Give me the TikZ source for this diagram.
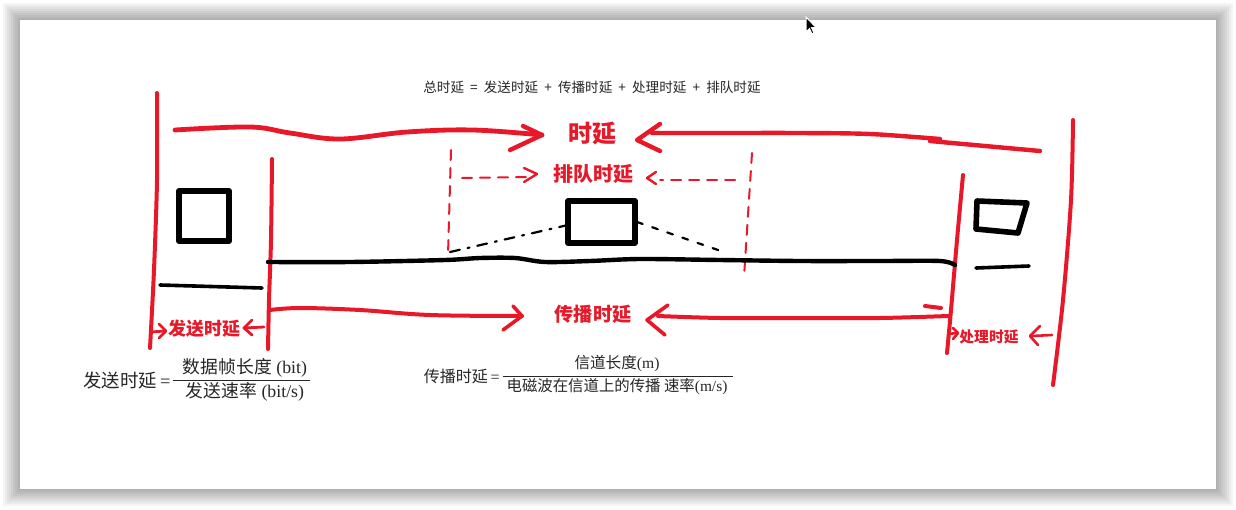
\documentclass[tikz,border=0pt]{standalone}
\usepackage{fontspec}
\setmainfont{Liberation Serif}
\newfontfamily\cjk{Noto Sans CJK SC}
\usetikzlibrary{calc}
\definecolor{pen}{RGB}{232,24,40}
\tikzset{
  redpen/.style={draw=pen, line width=2pt, line cap=round, line join=round},
  redhead/.style={draw=pen, line width=1.8pt, line cap=round, line join=round},
  reddash/.style={draw=pen, line width=1pt, line cap=round, dash pattern=on 5pt off 4pt},
  blackpen/.style={draw=black, line width=3pt, line cap=round, line join=round},
  blackline/.style={draw=black, line width=1.8pt, line cap=round},
  blackdash/.style={draw=black, line width=1.1pt, line cap=round, dash pattern=on 5pt off 4pt on 1pt off 4pt},
  redlabel/.style={text=pen, font=\cjk\bfseries, inner sep=0pt},
  formula/.style={text=black!85, inner sep=0pt},
}
\begin{document}
\begin{tikzpicture}[x=0.5pt,y=-0.5pt]
\useasboundingbox (0,0) rectangle (1236,509);
\fill[white] (0,0) rectangle (1236,509);
% window shadow
\foreach \d in {17,15,...,1}
  \fill[black, opacity=0.04] (20-\d,20-\d) rectangle (1216+\d,489+\d);
\fill[white] (20,20) rectangle (1216,489);

% ---------- texts ----------
\node[formula, font=\cjk\fontsize{6.8}{8}\selectfont] (total) at (592,87)
  {总时延 \ =\ \ 发送时延 \ +\ \ 传播时延 \ +\ \ 处理时延 \ +\ \ 排队时延};
\node[redlabel, font=\cjk\bfseries\fontsize{12}{14}\selectfont] (delay) at (592,133) {时延};
\node[redlabel, font=\cjk\bfseries\fontsize{10}{12}\selectfont] (queue) at (593,174) {排队时延};
\node[redlabel, font=\cjk\bfseries\fontsize{9.6}{12}\selectfont] (prop) at (593,314) {传播时延};
\node[redlabel, font=\cjk\bfseries\fontsize{9}{11}\selectfont] (send) at (204,329) {发送时延};
\node[redlabel, font=\cjk\bfseries\fontsize{7.4}{9}\selectfont] (proc) at (989,337) {处理时延};

% formula 1
\node[formula, anchor=east, font=\fontsize{9.2}{11}\selectfont] (f1lhs) at (171,381) {{\cjk 发送时延}\,=};
\node[formula, font=\fontsize{8.9}{10}\selectfont] (f1num) at (245,368) {{\cjk 数据帧长度} (bit)};
\node[formula, font=\fontsize{8.9}{10}\selectfont] (f1den) at (245,392) {{\cjk 发送速率} (bit/s)};
\coordinate (f1a) at (173,380);
\coordinate (f1b) at (310,380);
\draw[black!85, line width=0.5pt] (f1a) -- (f1b);

% formula 2
\node[formula, anchor=east, font=\fontsize{8}{9}\selectfont] (f2lhs) at (500,376) {{\cjk 传播时延}\,=};
\node[formula, font=\fontsize{7.8}{9}\selectfont] (f2num) at (617,364) {{\cjk 信道长度}(m)};
\node[formula, font=\fontsize{7.7}{9}\selectfont] (f2den) at (617,387) {{\cjk 电磁波在信道上的传播 速率}(m/s)};
\coordinate (f2a) at (503,376);
\coordinate (f2b) at (733,376);
\draw[black!85, line width=0.5pt] (f2a) -- (f2b);

% ---------- red vertical boundaries ----------
\draw[redpen] plot[smooth] coordinates {(157,93) (157,180) (154,270) (150,348)};
\draw[redpen] plot[smooth] coordinates {(272,159) (271,240) (269,300) (268,349)};
\draw[redpen] plot[smooth] coordinates {(963,175) (957,240) (951,310) (947,353)};
\draw[redpen] plot[smooth] coordinates {(1073,120) (1071,200) (1063,300) (1053,385)};

% ---------- top big arrow (时延) ----------
\coordinate (t1) at (175,130);
\coordinate (t1tip) at (542,135);
\draw[redpen, line width=2.4pt] plot[smooth, tension=0.6] coordinates
  {(t1) (250,127) (290,133) (340,139) (407,132) (473,130) (t1tip)};
\draw[redhead, line width=2.2pt] (523,126) -- (t1tip) -- (510,150);
\coordinate (t2tip) at (637,140);
\draw[redhead, line width=2.2pt] (660,124) -- (t2tip) -- (660,151);
\draw[redpen, line width=2.2pt] plot[smooth, tension=0.5] coordinates
  {(652,133) (720,133) (800,133) (870,134) (940,139)};
\draw[redpen, line width=2.2pt] (930,141) -- (1040,151);

% ---------- queueing (排队时延) ----------
\draw[reddash] (451,150) -- (448,255);
\draw[reddash] (752,153) -- (744,277);
\draw[reddash] (462,178) -- (528,177);
\draw[redhead, line width=1.2pt] (524,168) -- (537,174) -- (524,182);
\draw[reddash] (735,180) -- (660,180);
\draw[redhead, line width=1.2pt] (656,172) -- (647,178) -- (656,184);

% ---------- black network drawing ----------
\draw[blackpen] (179,191) rectangle (229,241);
\draw[blackline] (160,285) -- (262,288);
\draw[blackline, line width=2.2pt] plot[smooth, tension=0.5] coordinates
  {(268,262) (350,262) (445,260) (480,258) (515,258) (545,262) (590,261)
   (640,259) (720,260) (800,261) (880,261) (940,261) (955,265)};
\draw[blackpen, line width=2.8pt] (568,201) rectangle (635,243);
\draw[blackdash] (450,252) -- (568,225);
\draw[blackdash, dash pattern=on 3pt off 5pt] (637,222) -- (718,250) -- (724,260);
\draw[blackpen, line width=2.8pt] (977,201) -- (1027,203) -- (1018,233) -- (976,229) -- cycle;
\draw[blackline] (976,268) -- (1029,266);

% ---------- propagation (传播时延) ----------
\coordinate (p1tip) at (522,316);
\draw[redpen] plot[smooth, tension=0.6] coordinates
  {(270,310) (300,308) (360,310) (430,315) (p1tip)};
\draw[redhead] (513,306) -- (p1tip) -- (503,330);
\coordinate (p2tip) at (647,320);
\draw[redhead] (668,305) -- (p2tip) -- (665,335);
\draw[redpen] plot[smooth, tension=0.5] coordinates
  {(658,316) (720,318) (800,318) (880,318) (948,316)};
\draw[redpen] (925,306) -- (941,308);

% ---------- send / processing small arrows ----------
\draw[redhead, line width=1.4pt] (151,332) -- (165,331);
\draw[redhead, line width=1.4pt] (159,324) -- (166,331) -- (159,338);
\draw[redhead, line width=1.4pt] (264,327) -- (244,328);
\draw[redhead, line width=1.4pt] (252,320) -- (244,328) -- (252,335);
\draw[redhead, line width=1.3pt] (948,334) -- (957,333);
\draw[redhead, line width=1.3pt] (953,328) -- (958,333) -- (953,339);
\draw[redhead, line width=1.3pt] (1052,335) -- (1032,336);
\draw[redhead, line width=1.3pt] (1040,326) -- (1030,336) -- (1038,345);

% ---------- mouse cursor ----------
\draw[white, line width=0.5pt, fill=black] (806,17) -- (806,32) -- (809.5,28.5) -- (812,34)
  -- (814,33) -- (811.5,27.5) -- (816,27.5) -- cycle;
\end{tikzpicture}
\end{document}
